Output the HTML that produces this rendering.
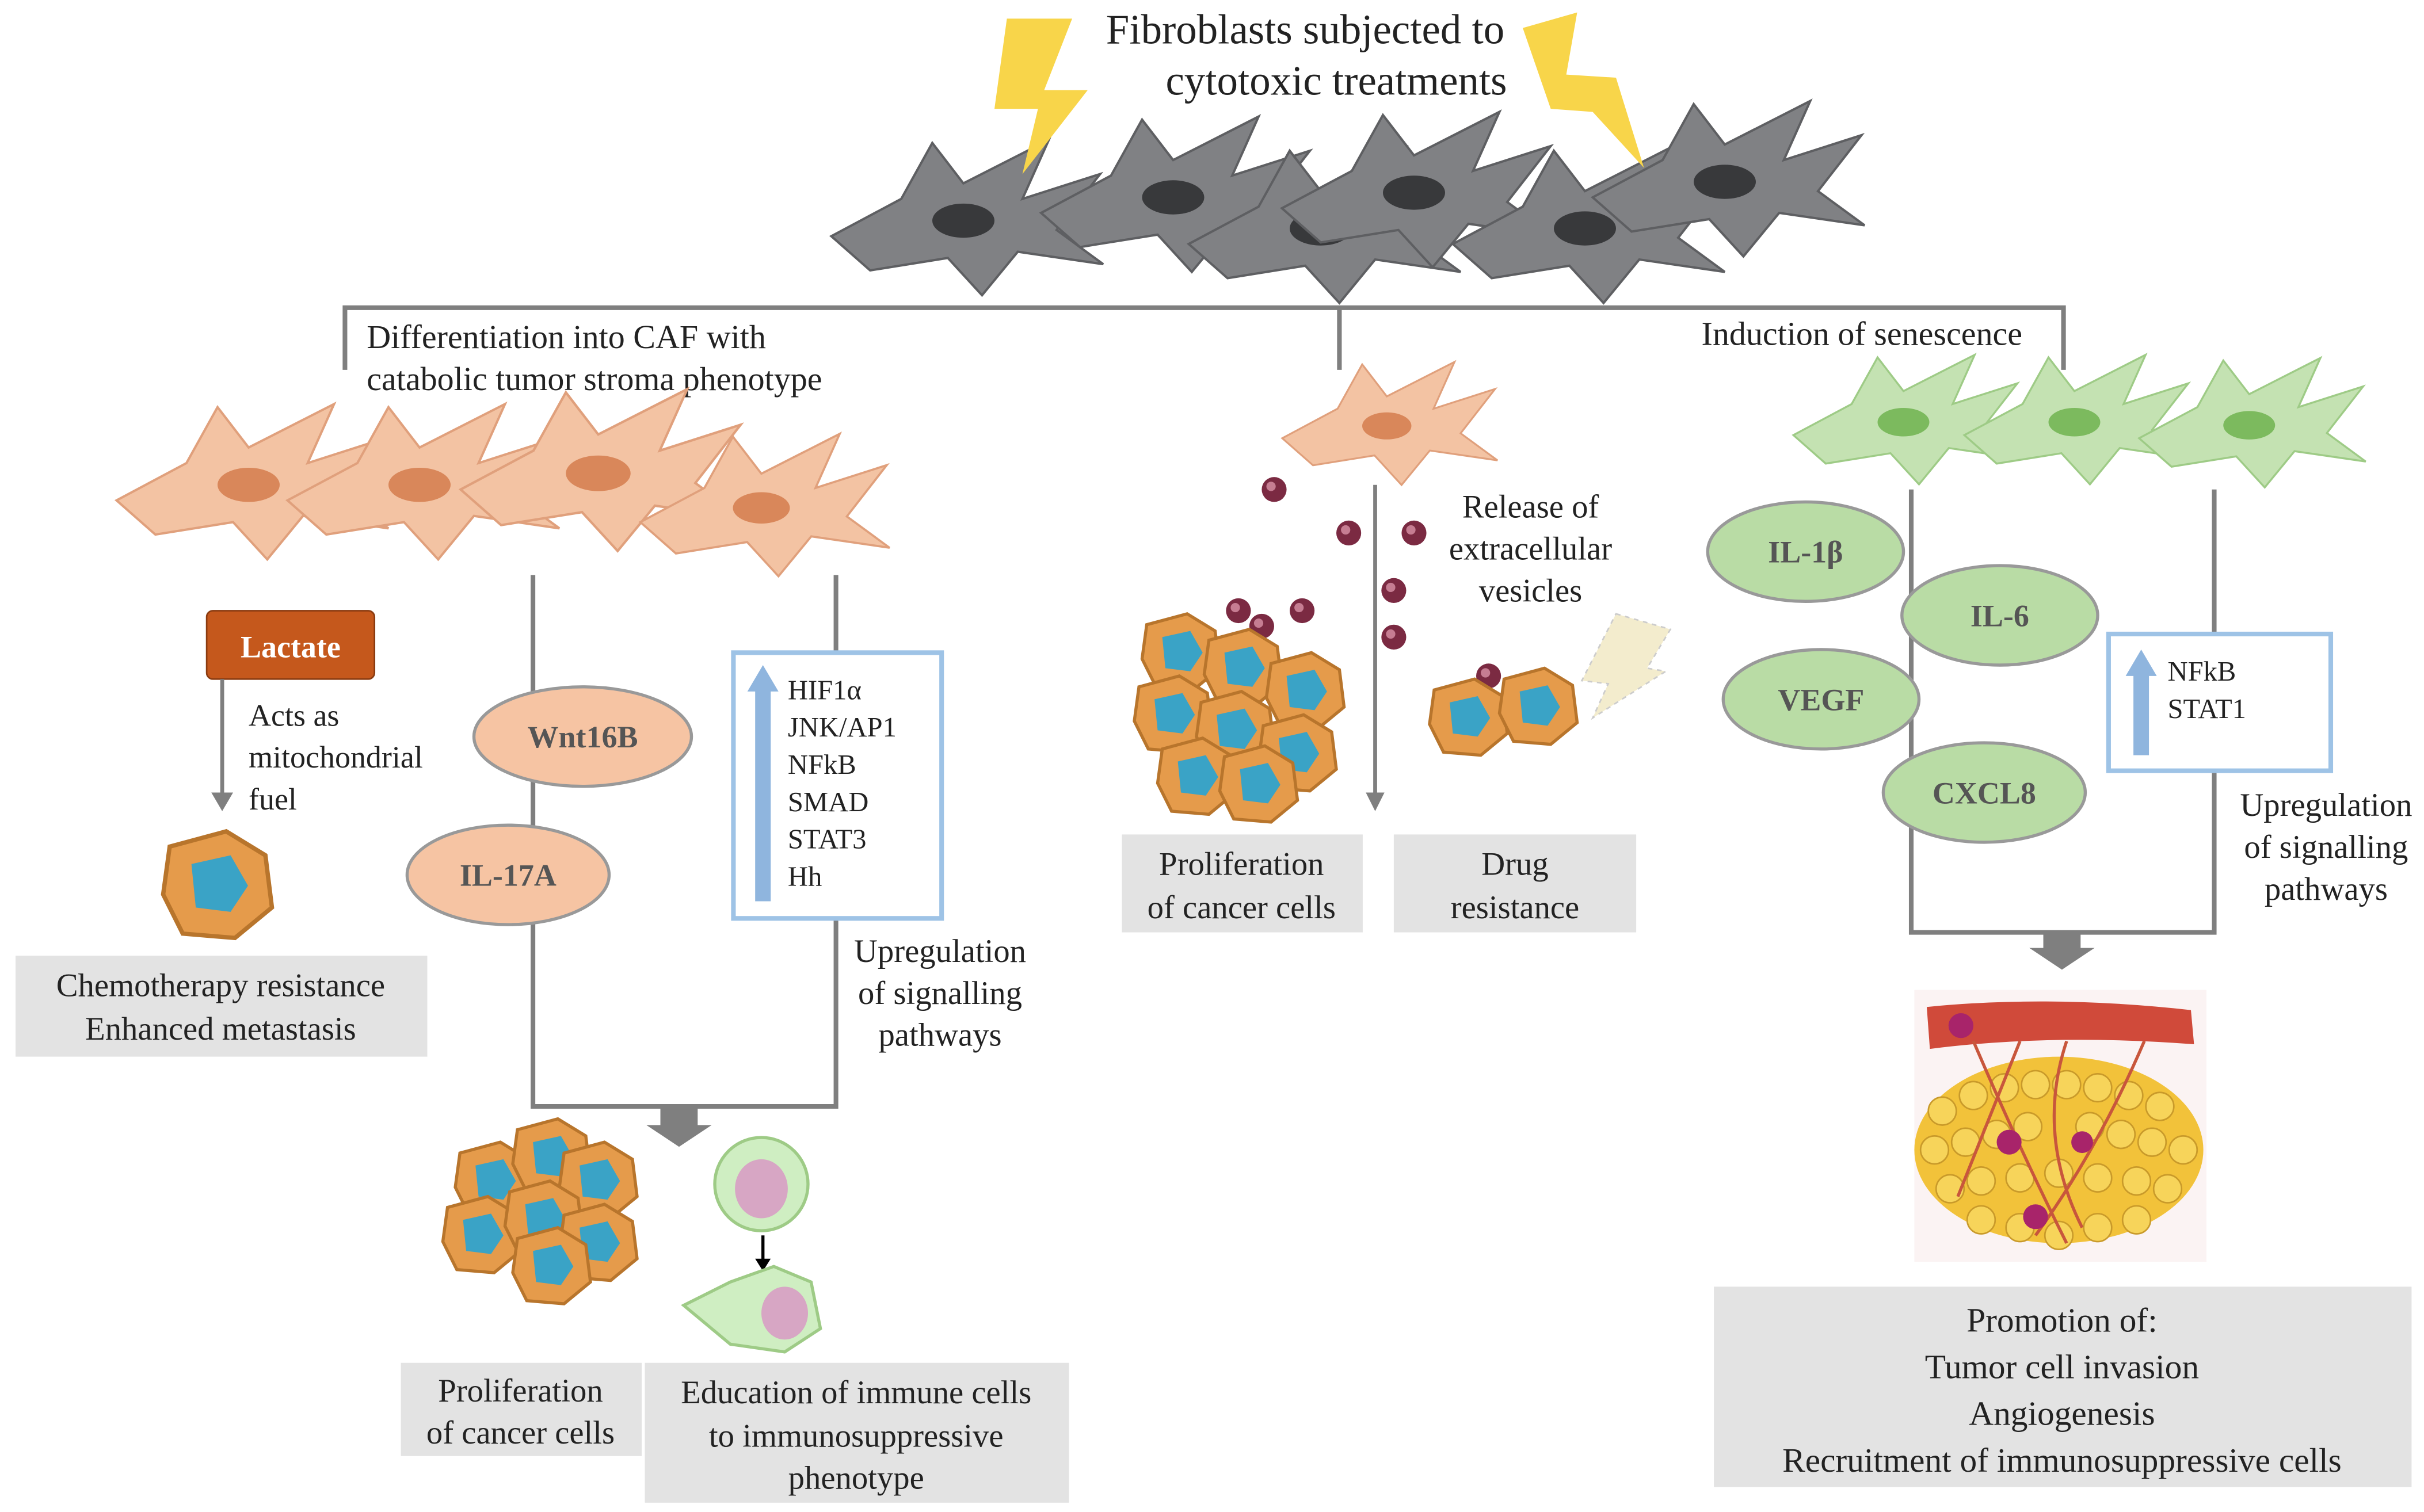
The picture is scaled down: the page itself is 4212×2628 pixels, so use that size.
<!DOCTYPE html>
<html><head><meta charset="utf-8">
<style>
html,body{margin:0;padding:0;background:#fff;}
svg{display:block;width:4212px;height:2628px;}
text{font-family:"Liberation Serif",serif;fill:#222;}
</style></head><body>
<svg viewBox="0 0 1560 973" preserveAspectRatio="none" xmlns="http://www.w3.org/2000/svg">
<defs>
<symbol id="cell" viewBox="-90 -60 180 120" overflow="visible">
<path d="M-85,12 L-40,-12 L-20,-48 L0,-22 L55,-50 L38,-12 L88,-28 L60,8 L90,30 L35,22 L12,50 L-10,26 L-60,34 Z" style="fill:var(--c);stroke:var(--s);stroke-width:1.5"/>
<ellipse cx="0" cy="2" rx="20" ry="11" style="fill:var(--n)"/>
</symbol>
<g id="ccell"><path d="M-22,-18 L4,-25 L22,-14 L25,10 L8,24 L-16,22 L-25,4 Z" fill="#e59b4b" stroke="#b8752c" stroke-width="2"/><path d="M-12,-10 L6,-14 L14,0 L6,12 L-10,10 Z" fill="#3aa3c6"/></g>
<g id="ves"><circle r="8" fill="#7b2a42"/><circle r="3" cx="-2" cy="-2" fill="#c67d92"/></g>
</defs>

<text x="840" y="28" font-size="27" text-anchor="middle">Fibroblasts subjected to</text>
<text x="860" y="61" font-size="27" text-anchor="middle">cytotoxic treatments</text>

<g style="--c:#808184;--s:#5e5f62;--n:#38393b">
<use href="#cell" x="530" y="80" width="180" height="120"/>
<use href="#cell" x="665" y="65" width="180" height="120"/>
<use href="#cell" x="760" y="85" width="180" height="120"/>
<use href="#cell" x="820" y="62" width="180" height="120"/>
<use href="#cell" x="930" y="85" width="180" height="120"/>
<use href="#cell" x="1020" y="55" width="180" height="120"/>
</g>
<path d="M648,12 L690,12 L672,58 L700,58 L658,112 L668,70 L640,70 Z" fill="#f8d54a"/>
<path d="M980,18 L1015,8 L1008,48 L1040,50 L1058,108 L1025,72 L998,70 Z" fill="#f8d54a"/>

<g stroke="#7f7f7f" stroke-width="3" fill="none">
<path d="M222,238 V198 H1328 V238"/>
<path d="M862,198 V238"/>
</g>
<text x="236" y="224" font-size="21.5">Differentiation into CAF with</text>
<text x="236" y="251" font-size="21.5">catabolic tumor stroma phenotype</text>
<text x="1095" y="222" font-size="21.5">Induction of senescence</text>

<g style="--c:#f3c3a3;--s:#e0a07c;--n:#d9875a">
<use href="#cell" x="70" y="250" width="180" height="120"/>
<use href="#cell" x="180" y="250" width="180" height="120"/>
<use href="#cell" x="290" y="240" width="190" height="125"/>
<use href="#cell" x="400" y="270" width="180" height="110"/>
<use href="#cell" x="805" y="225" width="175" height="95"/>
</g>
<g style="--c:#c4e2b2;--s:#9ecb86;--n:#7cba5e">
<use href="#cell" x="1140" y="220" width="170" height="100"/>
<use href="#cell" x="1250" y="220" width="170" height="100"/>
<use href="#cell" x="1360" y="222" width="175" height="100"/>
</g>

<rect x="133" y="393" width="108" height="44" rx="4" fill="#c5581c" stroke="#8a3b10"/>
<text x="187" y="423" font-size="20" font-weight="bold" text-anchor="middle" style="fill:#fff">Lactate</text>
<path d="M143,437 V512" stroke="#7f7f7f" stroke-width="2.5"/>
<path d="M136,510 L143,522 L150,510 Z" fill="#7f7f7f"/>
<text x="160" y="467" font-size="20">Acts as</text>
<text x="160" y="494" font-size="20">mitochondrial</text>
<text x="160" y="521" font-size="20">fuel</text>
<g transform="translate(140,570) scale(1.4)"><use href="#ccell"/></g>
<rect x="10" y="615" width="265" height="65" fill="#e3e3e3"/>
<text x="142" y="641" font-size="21" text-anchor="middle">Chemotherapy resistance</text>
<text x="142" y="669" font-size="21" text-anchor="middle">Enhanced metastasis</text>

<g stroke="#7f7f7f" stroke-width="3" fill="none"><path d="M343,370 V712 H538 V370"/></g>
<path d="M425,712 H449 V724 H458 L437,738 L416,724 H425 Z" fill="#7f7f7f"/>
<ellipse cx="375" cy="474" rx="70" ry="32" fill="#f6c4a3" stroke="#999" stroke-width="2"/>
<text x="375" y="481" font-size="20" font-weight="bold" text-anchor="middle" style="fill:#555">Wnt16B</text>
<ellipse cx="327" cy="563" rx="65" ry="32" fill="#f6c4a3" stroke="#999" stroke-width="2"/>
<text x="327" y="570" font-size="20" font-weight="bold" text-anchor="middle" style="fill:#555">IL-17A</text>

<rect x="472" y="420" width="134" height="171" fill="#fff" stroke="#9ec3e6" stroke-width="3"/>
<path d="M486,580 V445 H481 L491,428 L501,445 H496 V580 Z" fill="#8fb5de"/>
<g font-size="18"><text x="507" y="450">HIF1α</text><text x="507" y="474">JNK/AP1</text><text x="507" y="498">NFkB</text><text x="507" y="522">SMAD</text><text x="507" y="546">STAT3</text><text x="507" y="570">Hh</text></g>
<g font-size="21" text-anchor="middle"><text x="605" y="619">Upregulation</text><text x="605" y="646">of signalling</text><text x="605" y="673">pathways</text></g>

<g><use href="#ccell" x="318" y="760"/><use href="#ccell" x="355" y="745"/><use href="#ccell" x="385" y="760"/><use href="#ccell" x="310" y="795"/><use href="#ccell" x="350" y="785"/><use href="#ccell" x="385" y="800"/><use href="#ccell" x="355" y="815"/></g>
<circle cx="490" cy="762" r="30" fill="#cfeec2" stroke="#9ecb86" stroke-width="2"/><ellipse cx="490" cy="765" rx="17" ry="19" fill="#d7a6c4"/>
<path d="M491,795 V812" stroke="#000" stroke-width="2"/><path d="M486,810 L491,818 L496,810Z"/>
<path d="M440,840 L470,825 L498,815 L522,825 L528,855 L505,870 L470,865 Z" fill="#cfeec2" stroke="#9ecb86" stroke-width="2"/><ellipse cx="505" cy="845" rx="15" ry="17" fill="#d7a6c4"/>

<rect x="258" y="877" width="155" height="60" fill="#e3e3e3"/>
<text x="335" y="902" font-size="21" text-anchor="middle">Proliferation</text>
<text x="335" y="929" font-size="21" text-anchor="middle">of cancer cells</text>
<rect x="415" y="877" width="273" height="90" fill="#e3e3e3"/>
<g font-size="21" text-anchor="middle"><text x="551" y="903">Education of immune cells</text><text x="551" y="931">to immunosuppressive</text><text x="551" y="958">phenotype</text></g>

<path d="M885,312 V512" stroke="#7f7f7f" stroke-width="2.5"/>
<path d="M879,510 L885,522 L891,510 Z" fill="#7f7f7f"/>
<use href="#ves" x="820" y="315"/><use href="#ves" x="868" y="343"/><use href="#ves" x="910" y="343"/><use href="#ves" x="897" y="380"/><use href="#ves" x="897" y="410"/><use href="#ves" x="797" y="393"/><use href="#ves" x="812" y="403"/><use href="#ves" x="838" y="393"/><use href="#ves" x="805" y="432"/><use href="#ves" x="958" y="435"/>
<g font-size="21" text-anchor="middle"><text x="985" y="333">Release of</text><text x="985" y="360">extracellular</text><text x="985" y="387">vesicles</text></g>
<g><use href="#ccell" x="760" y="420"/><use href="#ccell" x="800" y="430"/><use href="#ccell" x="840" y="445"/><use href="#ccell" x="755" y="460"/><use href="#ccell" x="795" y="470"/><use href="#ccell" x="835" y="485"/><use href="#ccell" x="770" y="500"/><use href="#ccell" x="810" y="505"/></g>
<use href="#ccell" x="945" y="462"/><use href="#ccell" x="990" y="455"/>
<path d="M1040,395 L1075,405 L1060,430 L1072,432 L1025,462 L1035,440 L1018,438 Z" fill="#f3eccd" stroke="#ccc" stroke-dasharray="3,3"/>
<rect x="722" y="537" width="155" height="63" fill="#e3e3e3"/>
<text x="799" y="563" font-size="21" text-anchor="middle">Proliferation</text>
<text x="799" y="591" font-size="21" text-anchor="middle">of cancer cells</text>
<rect x="897" y="537" width="156" height="63" fill="#e3e3e3"/>
<text x="975" y="563" font-size="21" text-anchor="middle">Drug</text>
<text x="975" y="591" font-size="21" text-anchor="middle">resistance</text>

<g stroke="#7f7f7f" stroke-width="3" fill="none"><path d="M1230,315 V600 H1425 V315"/></g>
<path d="M1315,600 H1339 V610 H1348 L1327,624 L1306,610 H1315 Z" fill="#7f7f7f"/>
<g fill="#b9dca5" stroke="#999" stroke-width="2">
<ellipse cx="1162" cy="355" rx="63" ry="32"/><ellipse cx="1287" cy="396" rx="63" ry="32"/><ellipse cx="1172" cy="450" rx="63" ry="32"/><ellipse cx="1277" cy="510" rx="65" ry="32"/></g>
<g font-size="20" font-weight="bold" text-anchor="middle">
<text x="1162" y="362" style="fill:#555">IL-1β</text><text x="1287" y="403" style="fill:#555">IL-6</text><text x="1172" y="457" style="fill:#555">VEGF</text><text x="1277" y="517" style="fill:#555">CXCL8</text></g>
<rect x="1357" y="408" width="143" height="88" fill="#fff" stroke="#9ec3e6" stroke-width="3"/>
<path d="M1373,486 V435 H1368 L1378,418 L1388,435 H1383 V486 Z" fill="#8fb5de"/>
<text x="1395" y="438" font-size="18">NFkB</text><text x="1395" y="462" font-size="18">STAT1</text>
<g font-size="21" text-anchor="middle"><text x="1497" y="525">Upregulation</text><text x="1497" y="552">of signalling</text><text x="1497" y="579">pathways</text></g>

<rect x="1232" y="637" width="188" height="175" fill="#fbf3f3"/>
<path d="M1240,648 Q1320,640 1410,650 L1412,672 Q1320,665 1242,675 Z" fill="#d04a3a"/>
<ellipse cx="1325" cy="740" rx="93" ry="60" fill="#f2c23a"/>
<g fill="#f7d45a" stroke="#c99a2a" stroke-width="1">
<circle cx="1250" cy="715" r="9"/><circle cx="1270" cy="705" r="9"/><circle cx="1290" cy="700" r="9"/><circle cx="1310" cy="698" r="9"/><circle cx="1330" cy="698" r="9"/><circle cx="1350" cy="700" r="9"/><circle cx="1370" cy="705" r="9"/><circle cx="1390" cy="712" r="9"/>
<circle cx="1245" cy="740" r="9"/><circle cx="1265" cy="735" r="9"/><circle cx="1285" cy="730" r="9"/><circle cx="1305" cy="725" r="9"/><circle cx="1345" cy="725" r="9"/><circle cx="1365" cy="730" r="9"/><circle cx="1385" cy="735" r="9"/><circle cx="1405" cy="740" r="9"/>
<circle cx="1255" cy="765" r="9"/><circle cx="1275" cy="760" r="9"/><circle cx="1300" cy="758" r="9"/><circle cx="1325" cy="755" r="9"/><circle cx="1350" cy="758" r="9"/><circle cx="1375" cy="760" r="9"/><circle cx="1395" cy="765" r="9"/>
<circle cx="1275" cy="785" r="9"/><circle cx="1300" cy="790" r="9"/><circle cx="1325" cy="795" r="9"/><circle cx="1350" cy="790" r="9"/><circle cx="1375" cy="785" r="9"/></g>
<g stroke="#c8563c" stroke-width="2" fill="none"><path d="M1270,670 Q1300,740 1330,800"/><path d="M1330,670 Q1310,730 1340,790"/><path d="M1380,670 Q1350,740 1310,795"/><path d="M1300,670 Q1280,720 1260,770"/></g>
<circle cx="1262" cy="660" r="8" fill="#a8246a"/><circle cx="1293" cy="735" r="8" fill="#a8246a"/><circle cx="1310" cy="783" r="8" fill="#a8246a"/><circle cx="1340" cy="735" r="7" fill="#a8246a"/>
<rect x="1103" y="828" width="449" height="129" fill="#e3e3e3"/>
<g font-size="22" text-anchor="middle"><text x="1327" y="857">Promotion of:</text><text x="1327" y="887">Tumor cell invasion</text><text x="1327" y="917">Angiogenesis</text><text x="1327" y="947">Recruitment of immunosuppressive cells</text></g>
</svg>
</body></html>
